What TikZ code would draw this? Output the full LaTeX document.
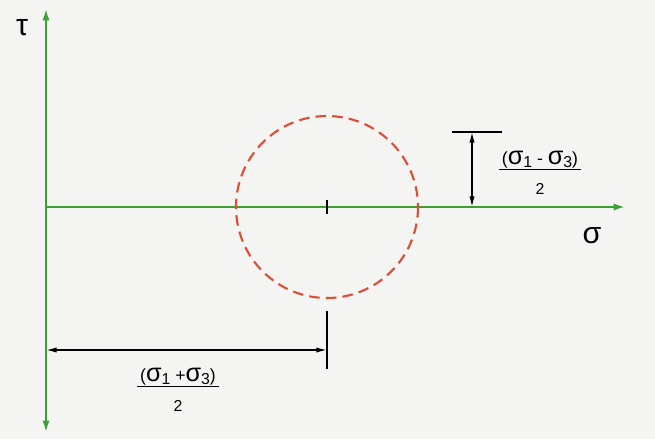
\documentclass[tikz,border=0pt]{standalone}
\usepackage{fontspec}
\setmainfont{Liberation Sans}
\usepackage{xcolor}
\usetikzlibrary{arrows.meta,positioning,calc}

\definecolor{axisgreen}{RGB}{60,160,50}
\definecolor{circred}{RGB}{225,75,50}
\definecolor{paper}{RGB}{244,244,242}

\newcommand{\sig}[1]{{\Large σ}\raisebox{-0.35ex}{\small #1}}
\newcommand{\halffrac}[1]{\begin{tabular}{@{\,}c@{\,}}#1\\[-1pt]\hline\rule{0pt}{14pt}\small 2\end{tabular}}

\begin{document}
\begin{tikzpicture}[x=0.2mm, y=-0.2mm,
    axis/.style={axisgreen, line width=1.4pt, -{Latex[length=7pt,width=4pt]}},
    dim/.style={black, line width=0.8pt, {Latex[length=6pt,width=3pt]}-{Latex[length=6pt,width=3pt]}},
    ext/.style={black, line width=0.9pt},
    mohr/.style={circred, line width=1.2pt, dash pattern=on 6pt off 3.5pt},
    frac/.style={inner sep=0pt}
]
\useasboundingbox[fill=paper] (0,0) rectangle (655,439);

% axes
\coordinate (o) at (46,207);
\coordinate (tautop) at (46,8);
\coordinate (taubot) at (46,433);
\coordinate (sigend) at (626,207);
\draw[axis] (o) -- (tautop);
\draw[axis] (o) -- (taubot);
\draw[axis] (o) -- (sigend);
\node (taulbl) at (22,28) {\LARGE τ};
\node (siglbl) at (592,236) {\LARGE σ};

% Mohr circle
\coordinate (c) at (327,207);
\draw[mohr] (c) circle (91);
\draw[ext] ($(c)+(0,-7)$) -- ($(c)+(0,7)$);

% radius
\coordinate (rtop) at (472,132);
\draw[ext] (452,132) -- (502,132);
\draw[dim] (rtop) -- (o -| rtop);
\node[frac] (rlbl) at (540,175) {\halffrac{(\sig{1} - \sig{3})}};

% centre distance
\coordinate (ctick) at (327,350);
\draw[ext] (327,311) -- (327,369);
\draw[dim] (ctick -| o) -- (ctick);
\node[frac] (clbl) at (178,392) {\halffrac{(\sig{1} +\sig{3})}};
\end{tikzpicture}
\end{document}
